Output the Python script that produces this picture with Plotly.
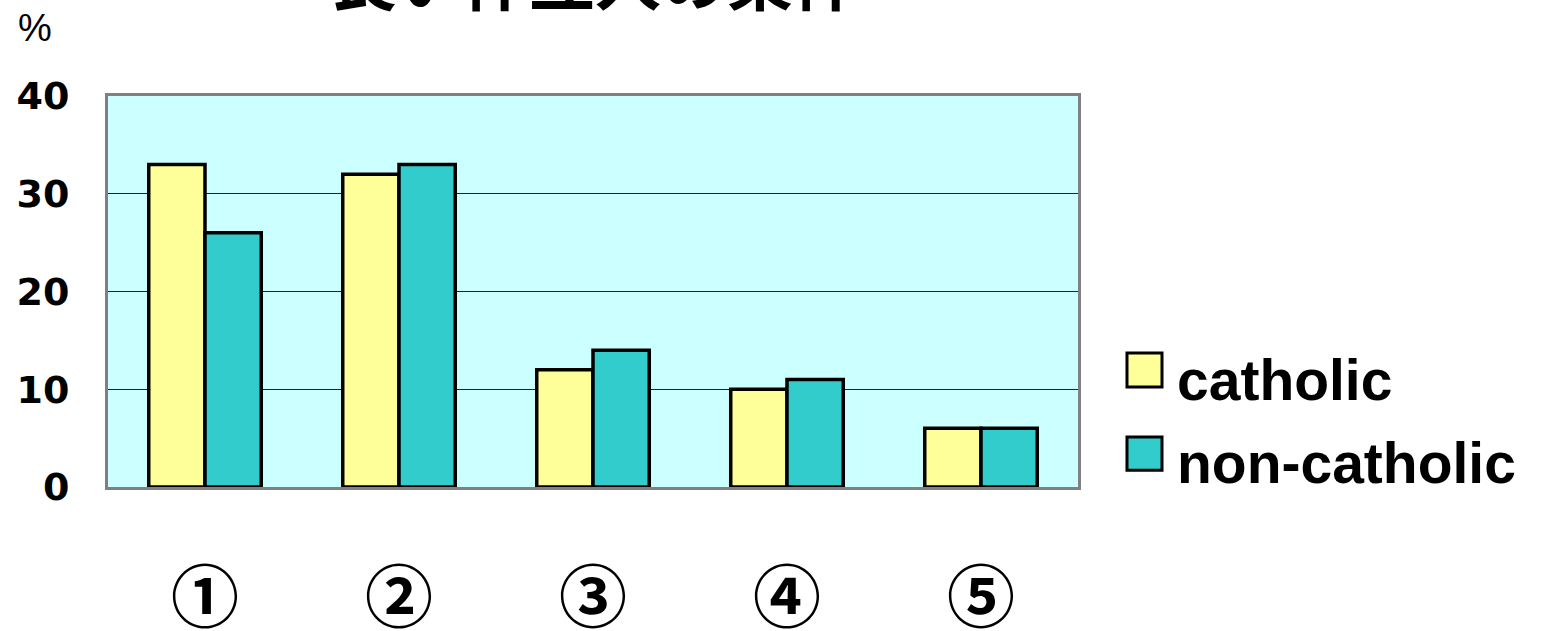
import plotly.graph_objects as go

categories = ["①", "②", "③", "④", "⑤"]
catholic = [33, 32, 12, 10, 6]
non_catholic = [26, 33, 14, 11, 6]
series_names = ["catholic", "non-catholic"]
y_ticks = [0, 10, 20, 30, 40]
title_text = "良い仲立人の条件"
unit_text = "%"

colors = ["#FFFF99", "#33CCCC"]

fig = go.Figure()
for name, vals, col in zip(series_names, [catholic, non_catholic], colors):
    fig.add_trace(go.Bar(
        x=categories, y=vals, name=name,
        marker=dict(color=col, line=dict(color="black", width=3.5)),
        showlegend=False,
    ))

# manual legend (big squares)
legend_y = [(0.256, 0.343), (0.043, 0.128)]
text_y = [0.274, 0.061]
for (y0, y1), ty, name, col in zip(legend_y, text_y, series_names, colors):
    fig.add_shape(type="rect", xref="paper", yref="paper",
                  x0=1.0505, x1=1.0866, y0=y0, y1=y1,
                  fillcolor=col, line=dict(color="black", width=3))
    fig.add_annotation(xref="paper", yref="paper", x=1.1, y=ty,
                       xanchor="left", yanchor="middle", showarrow=False,
                       text=name,
                       font=dict(family="Liberation Sans", size=57, color="black", weight="bold"))

# unit label
fig.add_annotation(xref="paper", yref="paper", x=-0.075, y=1.175,
                   xanchor="center", yanchor="middle", showarrow=False,
                   text=unit_text,
                   font=dict(family="Liberation Sans", size=38, color="black"))

# title (cut off at top of page, as in the reference)
fig.add_annotation(xref="paper", yref="paper", x=0.502, y=1.18,
                   xanchor="center", yanchor="bottom", showarrow=False,
                   text=title_text,
                   font=dict(family="Noto Sans CJK JP", size=66, color="black", weight="bold"))

fig.update_layout(
    width=1545, height=631,
    margin=dict(l=108, r=467, t=96, b=144, autoexpand=False),
    paper_bgcolor="white",
    plot_bgcolor="#CCFFFF",
    barmode="group",
    bargap=0.42,
    bargroupgap=0,
)
fig.update_xaxes(
    showline=True, mirror=True, linecolor="#808080", linewidth=3,
    tickfont=dict(family="Noto Sans CJK JP", size=68, color="black", weight="bold"),
    ticks="", ticklabelstandoff=50, automargin=False,
)
fig.update_yaxes(
    range=[0, 40], tickvals=y_ticks,
    showline=True, mirror=True, linecolor="#808080", linewidth=3,
    showgrid=True, gridcolor="#222222", gridwidth=1,
    zeroline=False,
    tickfont=dict(family="DejaVu Sans", size=38, color="black", weight="bold"),
    ticks="", ticklabelstandoff=28, automargin=False,
)

fig.write_html("out.html",
               config={"displayModeBar": False},
               post_script="document.body.style.margin='0';document.body.style.overflow='hidden';")
